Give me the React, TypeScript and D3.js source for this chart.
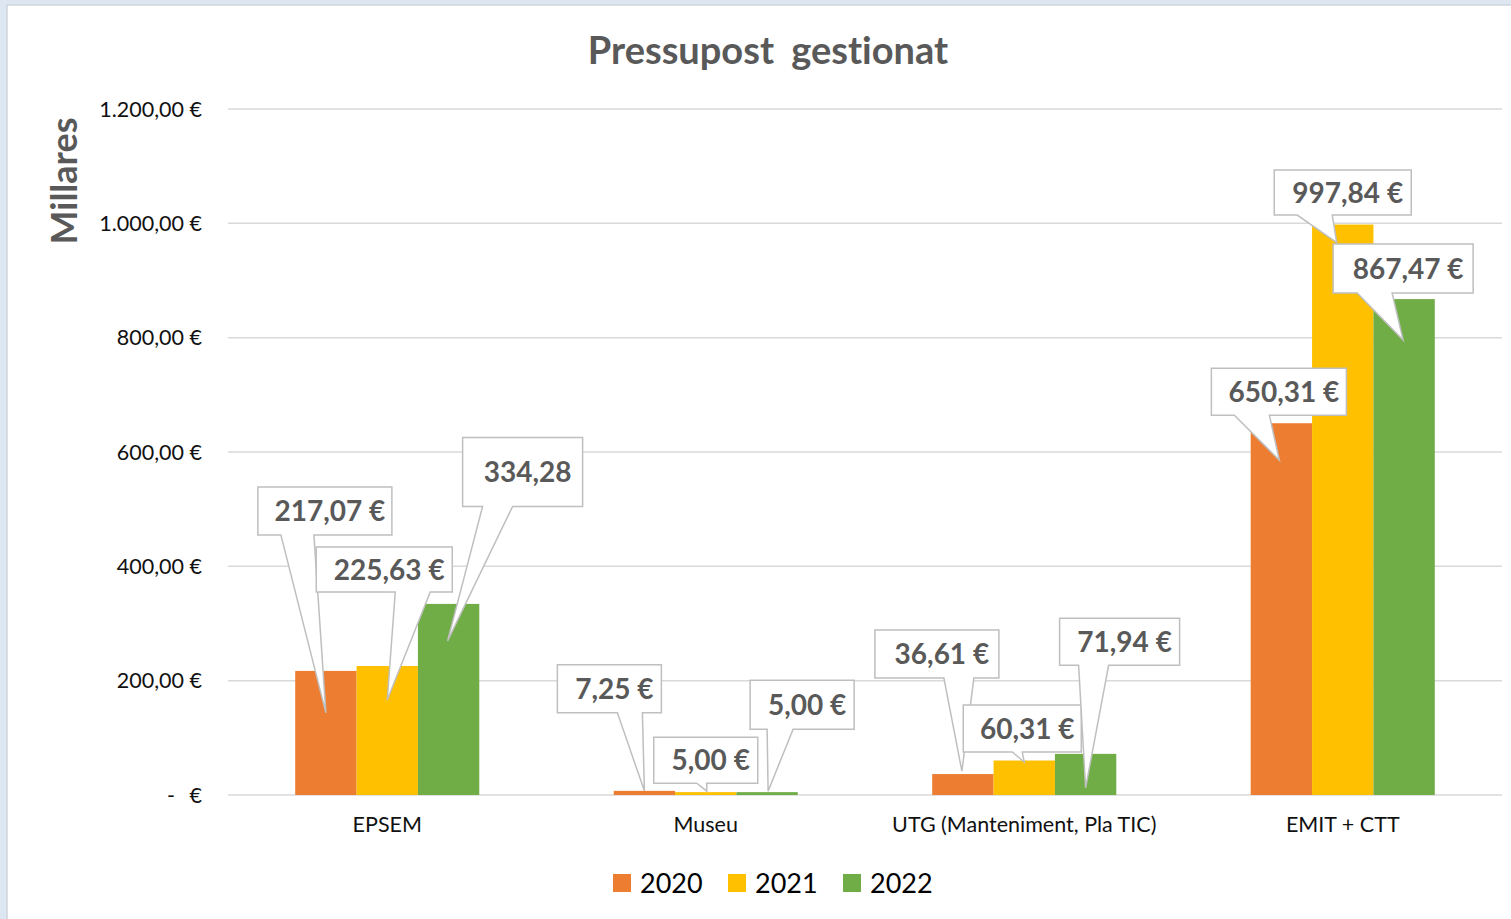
import { useEffect, useRef } from "react";
import * as d3 from "d3";

const categories = ["EPSEM", "Museu", "UTG (Manteniment, Pla TIC)", "EMIT + CTT"];
const years = ["2020", "2021", "2022"];
const values2020 = [217.07, 7.25, 36.61, 650.31];
const values2021 = [225.63, 5.0, 60.31, 997.84];
const values2022 = [334.28, 5.0, 71.94, 867.47];
const yTicks = [0, 200, 400, 600, 800, 1000, 1200];
const seriesColors = ["#ED7D31", "#FFC000", "#70AD47"];
// labels whose currency sign was cut off in the original
const cutLabels = [{ series: 2, category: 0 }];

// callout placement, relative to the top centre of each bar
// [dx, dy, width, height, tipDx, tipDy, baseLeft, baseRight]
const callouts2020 = [
  [-1, -160, 134, 48, 0, 42, -44, -11],
  [-35, -102, 104, 48, 0, 0, 8, 33],
  [-26, -120, 124, 48, -1, -3, 7, 37],
  [-2.5, -31.5, 135, 47, -2, 37, -44.5, -9.5],
];
const callouts2021 = [
  [-3, -96.5, 136, 45, 0, 34, 11, 46],
  [0, -32, 104, 46, 1, -1, -9, 1],
  [-2, -32, 118, 47, 0, 1.5, -10, 0],
  [0, -32, 137, 45, -6, 18, -45.5, -10.5],
];
const callouts2022 = [
  [74, -132, 120, 69, -1, 37, -40, -10],
  [35, -87.5, 104, 49, 1, -1, -35, -9],
  [34, -112, 120, 47, 0, 34, -41, -11],
  [-1, -30.5, 140, 49, -1, 41, -46, -11],
];

const App = () => {
  const svgRef = useRef<SVGSVGElement | null>(null);

  useEffect(() => {
    if (!svgRef.current) return;
    const svg = d3.select(svgRef.current);
    svg.selectAll("*").remove();

    const width = 1511;
    const height = 919;
    const series = [values2020, values2021, values2022];
    const callouts = [callouts2020, callouts2021, callouts2022];

    const locale = d3.formatLocale({
      decimal: ",",
      thousands: ".",
      grouping: [3],
      currency: ["", " €"],
    });
    const money = locale.format("$,.2f");
    const plain = locale.format(",.2f");

    // window frame
    svg.append("rect").attr("width", width).attr("height", height).attr("fill", "#dde7f2");
    svg
      .append("rect")
      .attr("x", 7)
      .attr("y", 5)
      .attr("width", width)
      .attr("height", height)
      .attr("fill", "#fff")
      .attr("stroke", "#d0d5db")
      .attr("stroke-width", 1.5);

    const x = d3
      .scaleBand()
      .domain(categories)
      .range([228, 1502])
      .paddingInner(0.422)
      .paddingOuter(0.211);
    const xInner = d3.scaleBand().domain(years).range([0, x.bandwidth()]);
    const y = d3.scaleLinear().domain([0, 1200]).range([795, 109]);

    // gridlines
    svg
      .append("g")
      .selectAll("line")
      .data(yTicks)
      .enter()
      .append("line")
      .attr("x1", 228)
      .attr("x2", 1502)
      .attr("y1", (d) => y(d))
      .attr("y2", (d) => y(d))
      .attr("stroke", "#d9d9d9")
      .attr("stroke-width", 1.5);

    // y tick labels
    const tickG = svg
      .append("g")
      .attr("font-family", "Lato, 'Open Sans', sans-serif")
      .attr("font-size", 21.5)
      .attr("fill", "#111");
    yTicks.forEach((t) => {
      if (t === 0) {
        tickG.append("text").attr("x", 171).attr("y", y(t)).attr("dy", "0.35em").attr("text-anchor", "middle").text("-");
        tickG.append("text").attr("x", 202).attr("y", y(t)).attr("dy", "0.35em").attr("text-anchor", "end").text("€");
      } else {
        tickG
          .append("text")
          .attr("x", 202)
          .attr("y", y(t))
          .attr("dy", "0.35em")
          .attr("text-anchor", "end")
          .text(money(t));
      }
    });

    // category labels
    svg
      .append("g")
      .selectAll("text")
      .data(categories)
      .enter()
      .append("text")
      .attr("x", (d) => (x(d) as number) + x.bandwidth() / 2)
      .attr("y", 832)
      .attr("text-anchor", "middle")
      .attr("font-family", "Lato, 'Open Sans', sans-serif")
      .attr("font-size", 21.5)
      .attr("fill", "#111")
      .text((d) => d);

    // bars
    series.forEach((vals, si) => {
      svg
        .append("g")
        .selectAll("rect")
        .data(vals)
        .enter()
        .append("rect")
        .attr("x", (_, ci) => (x(categories[ci]) as number) + (xInner(years[si]) as number))
        .attr("y", (d) => y(d))
        .attr("width", xInner.bandwidth())
        .attr("height", (d) => y(0) - y(d))
        .attr("fill", seriesColors[si]);
    });

    // callout data labels
    const labelG = svg.append("g");
    series.forEach((vals, si) => {
      vals.forEach((v, ci) => {
        const [dx, dy, w, h, tdx, tdy, bl, br] = callouts[si][ci];
        const bx = (x(categories[ci]) as number) + (xInner(years[si]) as number) + xInner.bandwidth() / 2;
        const by = y(v);
        const cx = bx + dx;
        const cy = by + dy;
        const x0 = cx - w / 2;
        const x1 = cx + w / 2;
        const y0 = cy - h / 2;
        const y1 = cy + h / 2;
        const p = d3.path();
        p.moveTo(x0, y0);
        p.lineTo(x1, y0);
        p.lineTo(x1, y1);
        p.lineTo(cx + br, y1);
        p.lineTo(bx + tdx, by + tdy);
        p.lineTo(cx + bl, y1);
        p.lineTo(x0, y1);
        p.closePath();
        labelG
          .append("path")
          .attr("d", p.toString())
          .attr("fill", "#fff")
          .attr("stroke", "#bfbfbf")
          .attr("stroke-width", 1.5)
          .attr("stroke-linejoin", "miter");
        const cut = cutLabels.some((c) => c.series === si && c.category === ci);
        labelG
          .append("text")
          .attr("x", cx + 5)
          .attr("y", cy)
          .attr("dy", "0.36em")
          .attr("text-anchor", "middle")
          .attr("font-family", "Lato, 'Open Sans', sans-serif")
          .attr("font-weight", "bold")
          .attr("font-size", 28)
          .attr("fill", "#595959")
          .text(cut ? plain(v) : money(v));
      });
    });

    // title
    svg
      .append("text")
      .attr("x", 768)
      .attr("y", 64)
      .attr("text-anchor", "middle")
      .attr("font-family", "Lato, 'Open Sans', sans-serif")
      .attr("font-weight", "bold")
      .attr("font-size", 38)
      .attr("word-spacing", 8)
      .style("font-variant-ligatures", "none")
      .attr("fill", "#595959")
      .text("Pressupost gestionat");

    // y axis title
    svg
      .append("text")
      .attr("transform", "translate(77,181) rotate(-90)")
      .attr("text-anchor", "middle")
      .attr("font-family", "Lato, 'Open Sans', sans-serif")
      .attr("font-weight", "bold")
      .attr("font-size", 36)
      .attr("fill", "#595959")
      .text("Millares");

    // legend
    const legend = svg.append("g").attr("transform", "translate(613,874)");
    years.forEach((yr, i) => {
      const item = legend.append("g").attr("transform", `translate(${i * 115},0)`);
      item.append("rect").attr("width", 18).attr("height", 18).attr("fill", seriesColors[i]);
      item
        .append("text")
        .attr("x", 27)
        .attr("y", 9)
        .attr("dy", "0.36em")
        .attr("font-family", "Lato, 'Open Sans', sans-serif")
        .attr("font-size", 27)
        .attr("fill", "#000")
        .text(yr);
    });
  }, []);

  return (
    <div style={{ position: "absolute", left: 0, top: 0 }}>
      <svg ref={svgRef} width={1511} height={919} style={{ display: "block" }}></svg>
    </div>
  );
};

export default App;
